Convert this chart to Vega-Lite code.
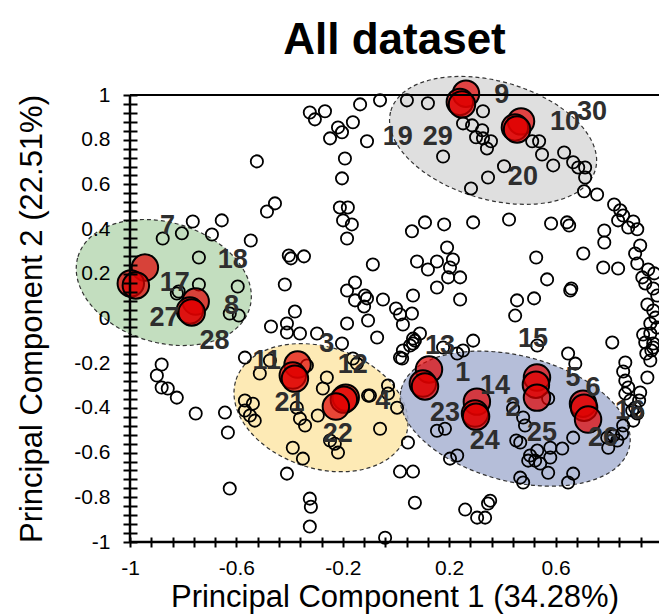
{
  "$schema": "https://vega.github.io/schema/vega-lite/v6.json",
  "width": 529,
  "height": 447,
  "autosize": {"type": "none"},
  "padding": {"left": 130, "top": 95, "right": 0, "bottom": 72},
  "config": {"view": {"stroke": null}, "font": "Liberation Sans"},
  "title": {"text": "All dataset", "font": "Liberation Sans", "fontSize": 44, "fontWeight": "bold", "color": "black", "anchor": "middle", "frame": "group", "offset": 11},
  "datasets": {
    "ell": [
      {"group": "green", "x": -0.873, "y": 0.161},
      {"group": "yellow", "x": -0.282, "y": -0.399},
      {"group": "blue", "x": 0.448, "y": -0.448},
      {"group": "grey", "x": 0.365, "y": 0.797}
    ],
    "pts": [
      {"x":-0.324,"y":0.922},{"x":-0.305,"y":0.891},{"x":-0.267,"y":0.927},{"x":-0.218,"y":0.855},{"x":-0.203,"y":0.833},{"x":-0.162,"y":0.878},{"x":-0.135,"y":0.958},{"x":-0.248,"y":0.806},{"x":-0.523,"y":0.703},{"x":-0.192,"y":0.716},{"x":-0.203,"y":0.627},{"x":-0.455,"y":0.515},{"x":-0.485,"y":0.479},{"x":-0.211,"y":0.497},{"x":-0.181,"y":0.497},{"x":-0.199,"y":0.439},{"x":-0.166,"y":0.421},{"x":-0.184,"y":0.358},{"x":-0.764,"y":0.434},{"x":-0.655,"y":0.439},{"x":-0.805,"y":0.381},{"x":-0.692,"y":0.376},{"x":-0.877,"y":0.358},{"x":-0.546,"y":0.349},{"x":-0.741,"y":0.273},{"x":-0.403,"y":0.282},{"x":-0.395,"y":0.269},{"x":-0.346,"y":0.278},{"x":-0.741,"y":0.152},{"x":-0.595,"y":0.143},{"x":-0.418,"y":0.152},{"x":-0.184,"y":0.125},{"x":-0.154,"y":0.161},{"x":-0.154,"y":0.081},{"x":-0.824,"y":0.112},{"x":-0.817,"y":0.121},{"x":-0.591,"y":0.013},{"x":-0.380,"y":0.031},{"x":-0.470,"y":-0.036},{"x":-0.410,"y":-0.022},{"x":-0.410,"y":-0.063},{"x":-0.361,"y":-0.067},{"x":-0.297,"y":-0.067},{"x":-0.184,"y":-0.022},{"x":-0.117,"y":0.103},{"x":-0.109,"y":0.090},{"x":-0.120,"y":0.054},{"x":-0.087,"y":0.242},{"x":-0.049,"y":0.085},{"x":-0.105,"y":-0.009},{"x":-0.071,"y":-0.085},{"x":-0.203,"y":-0.112},{"x":0.060,"y":0.390},{"x":0.109,"y":0.430},{"x":0.079,"y":0.255},{"x":0.120,"y":0.219},{"x":0.154,"y":0.255},{"x":0.154,"y":0.139},{"x":0.064,"y":0.103},{"x":0.000,"y":0.045},{"x":0.015,"y":0.018},{"x":0.060,"y":0.022},{"x":0.026,"y":-0.027},{"x":0.064,"y":-0.090},{"x":0.090,"y":-0.067},
      {"x":-0.060,"y":0.976},{"x":0.041,"y":0.976},{"x":0.120,"y":0.963},{"x":-0.109,"y":0.793},{"x":0.177,"y":0.725},{"x":0.252,"y":0.873},{"x":0.286,"y":0.864},{"x":0.327,"y":0.927},{"x":0.324,"y":0.842},{"x":0.301,"y":0.811},{"x":0.327,"y":0.806},{"x":0.357,"y":0.793},{"x":0.342,"y":0.761},{"x":0.282,"y":0.582},{"x":0.346,"y":0.631},{"x":0.406,"y":0.681},{"x":0.512,"y":0.793},{"x":0.538,"y":0.793},{"x":0.549,"y":0.734},{"x":0.591,"y":0.685},{"x":0.632,"y":0.743},{"x":0.666,"y":0.699},{"x":0.685,"y":0.676},{"x":0.711,"y":0.676},{"x":0.711,"y":0.631},{"x":0.707,"y":0.569},{"x":0.756,"y":0.555},{"x":0.290,"y":0.430},{"x":0.181,"y":0.421},{"x":0.425,"y":0.443},{"x":0.583,"y":0.425},{"x":0.643,"y":0.430},{"x":0.651,"y":0.416},{"x":0.192,"y":0.318},{"x":0.214,"y":0.264},{"x":0.203,"y":0.228},{"x":0.196,"y":0.184},{"x":0.241,"y":0.184},{"x":0.241,"y":0.085},{"x":0.455,"y":0.081},{"x":0.519,"y":0.090},{"x":0.448,"y":0.013},{"x":0.527,"y":0.273},{"x":0.568,"y":0.175},{"x":0.655,"y":0.125},{"x":0.704,"y":0.291},{"x":0.783,"y":0.394},{"x":0.783,"y":0.340},{"x":0.779,"y":0.228},{"x":0.835,"y":0.224},
      {"x":0.820,"y":0.510},{"x":0.843,"y":0.484},{"x":0.854,"y":0.461},{"x":0.835,"y":0.439},{"x":0.873,"y":0.407},{"x":0.892,"y":0.434},{"x":0.907,"y":0.399},{"x":0.918,"y":0.327},{"x":0.899,"y":0.291},{"x":0.907,"y":0.246},{"x":0.948,"y":0.219},{"x":0.971,"y":0.202},{"x":0.926,"y":0.184},{"x":0.937,"y":0.157},{"x":0.967,"y":0.134},{"x":0.982,"y":0.103},{"x":0.945,"y":0.063},{"x":0.967,"y":0.036},{"x":0.975,"y":0.004},{"x":0.956,"y":-0.022},{"x":0.982,"y":-0.040},{"x":0.956,"y":-0.067},{"x":0.929,"y":-0.072},{"x":0.937,"y":-0.107},{"x":0.967,"y":-0.112},{"x":0.960,"y":-0.143},{"x":0.941,"y":-0.157},{"x":0.956,"y":-0.188},{"x":0.945,"y":-0.264},{"x":0.918,"y":-0.331},{"x":0.914,"y":-0.367},{"x":0.907,"y":-0.425},{"x":0.888,"y":-0.412},{"x":0.892,"y":-0.457},{"x":0.967,"y":-0.130},{"x":0.659,"y":0.134},{"x":0.813,"y":-0.107},{"x":0.647,"y":-0.157},{"x":0.674,"y":-0.202},{"x":0.862,"y":-0.197},{"x":0.854,"y":-0.237},{"x":0.862,"y":-0.278},{"x":0.873,"y":-0.309},{"x":0.862,"y":-0.336},{"x":0.881,"y":-0.367},{"x":0.899,"y":-0.399},
      {"x":0.071,"y":-0.099},{"x":0.053,"y":-0.121},{"x":0.026,"y":-0.143},{"x":0.023,"y":-0.179},{"x":0.177,"y":-0.130},{"x":0.230,"y":-0.157},{"x":0.252,"y":-0.143},{"x":0.290,"y":-0.099},{"x":0.531,"y":-0.121},{"x":0.832,"y":-0.546},{"x":0.850,"y":-0.515},{"x":0.854,"y":-0.479},{"x":0.817,"y":-0.524},{"x":0.794,"y":-0.533},{"x":0.798,"y":-0.578},{"x":0.666,"y":-0.533},{"x":0.625,"y":-0.582},{"x":0.580,"y":-0.578},{"x":0.580,"y":-0.622},{"x":0.572,"y":-0.690},{"x":0.531,"y":-0.591},{"x":0.504,"y":-0.613},{"x":0.523,"y":-0.636},{"x":0.542,"y":-0.649},{"x":0.497,"y":-0.636},{"x":0.467,"y":-0.555},{"x":0.452,"y":-0.546},{"x":0.485,"y":-0.479},{"x":0.478,"y":-0.443},{"x":0.440,"y":-0.403},{"x":0.572,"y":-0.358},{"x":0.666,"y":-0.694},{"x":0.647,"y":-0.734},{"x":0.467,"y":-0.712},{"x":0.478,"y":-0.734},{"x":0.154,"y":-0.502},{"x":0.184,"y":-0.493},{"x":0.203,"y":-0.627},{"x":0.230,"y":-0.613},{"x":0.045,"y":-0.555},{"x":0.015,"y":-0.685},{"x":0.064,"y":-0.685},{"x":0.071,"y":-0.824},{"x":0.260,"y":-0.855},{"x":0.305,"y":-0.891},{"x":0.335,"y":-0.891},{"x":0.346,"y":-0.828},{"x":0.354,"y":-0.815},{"x":-0.041,"y":-0.981},{"x":-0.060,"y":-0.493},{"x":-0.098,"y":-0.345},{"x":-0.030,"y":-0.300},{"x":0.004,"y":-0.399},
      {"x":-0.625,"y":0.022},{"x":0.015,"y":-0.175},{"x":0.064,"y":-0.112},{"x":-0.568,"y":-0.175},{"x":-0.474,"y":-0.188},{"x":-0.512,"y":-0.246},{"x":-0.335,"y":-0.210},{"x":-0.162,"y":-0.179},{"x":-0.147,"y":-0.202},{"x":-0.260,"y":-0.264},{"x":-0.275,"y":-0.313},{"x":-0.030,"y":-0.336},{"x":-0.105,"y":-0.345},{"x":-0.568,"y":-0.367},{"x":-0.538,"y":-0.381},{"x":-0.568,"y":-0.412},{"x":-0.549,"y":-0.434},{"x":-0.531,"y":-0.457},{"x":-0.373,"y":-0.399},{"x":-0.361,"y":-0.448},{"x":-0.342,"y":-0.479},{"x":-0.294,"y":-0.434},{"x":-0.643,"y":-0.421},{"x":-0.632,"y":-0.510},{"x":-0.388,"y":-0.578},{"x":-0.350,"y":-0.627},{"x":-0.248,"y":-0.546},{"x":-0.230,"y":-0.560},{"x":-0.218,"y":-0.600},{"x":-0.410,"y":-0.694},{"x":-0.881,"y":-0.206},{"x":-0.899,"y":-0.255},{"x":-0.881,"y":-0.309},{"x":-0.858,"y":-0.313},{"x":-0.824,"y":-0.354},{"x":-0.753,"y":-0.425},{"x":-0.625,"y":-0.761},{"x":-0.324,"y":-0.806},{"x":-0.320,"y":-0.842},{"x":-0.324,"y":-0.931}
    ],
    "red": [
      {"id":9,"x":0.263,"y":1.006},{"id":19,"x":0.240,"y":0.969},{"id":29,"x":0.248,"y":0.958},
      {"id":10,"x":0.470,"y":0.882},{"id":20,"x":0.447,"y":0.855},{"id":30,"x":0.455,"y":0.846},
      {"id":7,"x":-0.944,"y":0.228},{"id":17,"x":-0.997,"y":0.157},{"id":27,"x":-0.978,"y":0.148},
      {"id":18,"x":-0.753,"y":0.076},{"id":8,"x":-0.775,"y":0.036},{"id":28,"x":-0.768,"y":0.027},
      {"id":11,"x":-0.370,"y":-0.206},{"id":3,"x":-0.388,"y":-0.255},{"id":21,"x":-0.380,"y":-0.269},
      {"id":12,"x":-0.189,"y":-0.354},{"id":4,"x":-0.196,"y":-0.363},{"id":22,"x":-0.226,"y":-0.394},
      {"id":13,"x":0.124,"y":-0.228},{"id":1,"x":0.101,"y":-0.291},{"id":23,"x":0.109,"y":-0.304},
      {"id":14,"x":0.304,"y":-0.372},{"id":2,"x":0.297,"y":-0.425},{"id":24,"x":0.301,"y":-0.439},
      {"id":15,"x":0.530,"y":-0.264},{"id":5,"x":0.526,"y":-0.296},{"id":25,"x":0.530,"y":-0.354},
      {"id":6,"x":0.703,"y":-0.381},{"id":16,"x":0.707,"y":-0.399},{"id":26,"x":0.722,"y":-0.452}
    ],
    "labels": [
      {"id":"9","x":0.398,"y":0.999},{"id":"29","x":0.157,"y":0.811},{"id":"19","x":0.007,"y":0.811},
      {"id":"10","x":0.635,"y":0.878},{"id":"30","x":0.737,"y":0.922},{"id":"20","x":0.477,"y":0.631},
      {"id":"7","x":-0.859,"y":0.416},{"id":"18","x":-0.614,"y":0.260},{"id":"17","x":-0.832,"y":0.157},
      {"id":"8","x":-0.618,"y":0.058},{"id":"27","x":-0.870,"y":0.004},{"id":"28","x":-0.682,"y":-0.099},
      {"id":"11","x":-0.486,"y":-0.188},{"id":"3","x":-0.260,"y":-0.112},{"id":"12","x":-0.163,"y":-0.210},
      {"id":"4","x":-0.050,"y":-0.367},{"id":"21","x":-0.400,"y":-0.376},{"id":"22","x":-0.219,"y":-0.515},
      {"id":"13","x":0.165,"y":-0.121},{"id":"1","x":0.251,"y":-0.246},{"id":"14","x":0.372,"y":-0.300},
      {"id":"23","x":0.184,"y":-0.421},{"id":"2","x":0.440,"y":-0.399},{"id":"24","x":0.334,"y":-0.546},
      {"id":"15","x":0.515,"y":-0.090},{"id":"25","x":0.549,"y":-0.511},{"id":"5","x":0.665,"y":-0.264},
      {"id":"6","x":0.741,"y":-0.313},{"id":"16","x":0.880,"y":-0.412},{"id":"26","x":0.778,"y":-0.533}
    ]
  },
  "layer": [
    {
      "data": {"name": "ell"},
      "transform": [{"filter": "datum.group == 'green'"}],
      "mark": {"type": "point", "shape": "M -1 0 A 1 0.67 0 1 1 1 0 A 1 0.67 0 1 1 -1 0 Z", "size": 32113, "angle": 16.7, "filled": true, "fill": "#bcdab8", "fillOpacity": 0.9, "stroke": "#333333", "strokeWidth": 1.2, "strokeDash": [4, 3], "opacity": 1},
      "encoding": {
        "x": {"field": "x", "type": "quantitative", "scale": {"domain": [-1, 0.9887], "nice": false, "zero": false},
          "axis": {"title": "Principal Component 1 (34.28%)", "values": [-1,-0.92,-0.84,-0.76,-0.68,-0.6,-0.52,-0.44,-0.36,-0.28,-0.2,-0.12,-0.04,0.04,0.12,0.2,0.28,0.36,0.44,0.52,0.6,0.68,0.76,0.84,0.92,1],
            "tickCount": 200, "zindex": 1,
            "labelExpr": "abs((datum.value + 1) / 0.4 - round((datum.value + 1) / 0.4)) < 0.01 ? toString(datum.value) : ''",
            "offset": -5, "tickSize": 10, "tickWidth": 2, "tickColor": "black", "domain": false, "grid": false,
            "labelFontSize": 21, "labelColor": "black", "labelPadding": 10, "labelOverlap": false, "labelFlush": false, "labelFont": "Liberation Sans",
            "titleFontSize": 31, "titleFontWeight": "normal", "titleColor": "black", "titlePadding": 4, "titleFont": "Liberation Sans"}},
        "y": {"field": "y", "type": "quantitative", "scale": {"domain": [-1, 1], "nice": false, "zero": false},
          "axis": {"title": "Principal Component 2 (22.51%)", "values": [-1,-0.96,-0.92,-0.88,-0.84,-0.8,-0.76,-0.72,-0.68,-0.64,-0.6,-0.56,-0.52,-0.48,-0.44,-0.4,-0.36,-0.32,-0.28,-0.24,-0.2,-0.16,-0.12,-0.08,-0.04,0,0.04,0.08,0.12,0.16,0.2,0.24,0.28,0.32,0.36,0.4,0.44,0.48,0.52,0.56,0.6,0.64,0.68,0.72,0.76,0.8,0.84,0.88,0.92,0.96,1],
            "tickCount": 200, "zindex": 1,
            "labelExpr": "abs(datum.value * 5 - round(datum.value * 5)) < 0.01 ? toString(datum.value) : ''",
            "offset": -7, "tickSize": 14, "tickWidth": 2, "tickColor": "black", "domain": false, "grid": false,
            "labelFontSize": 21, "labelColor": "black", "labelPadding": 13, "labelOverlap": false, "labelFlush": false, "labelFont": "Liberation Sans",
            "titleFontSize": 31, "titleFontWeight": "normal", "titleColor": "black", "titlePadding": 25, "titleFont": "Liberation Sans"}}
      }
    },
    {
      "data": {"name": "ell"},
      "transform": [{"filter": "datum.group == 'yellow'"}],
      "mark": {"type": "point", "shape": "M -1 0 A 1 0.678 0 1 1 1 0 A 1 0.678 0 1 1 -1 0 Z", "size": 31970, "angle": 18.3, "filled": true, "fill": "#fde8ad", "fillOpacity": 0.9, "stroke": "#333333", "strokeWidth": 1.2, "strokeDash": [4, 3], "opacity": 1},
      "encoding": {"x": {"field": "x", "type": "quantitative"}, "y": {"field": "y", "type": "quantitative"}}
    },
    {
      "data": {"name": "ell"},
      "transform": [{"filter": "datum.group == 'blue'"}],
      "mark": {"type": "point", "shape": "M -1 0 A 1 0.533 0 1 1 1 0 A 1 0.533 0 1 1 -1 0 Z", "size": 55413, "angle": 14.5, "filled": true, "fill": "#a8b3d2", "fillOpacity": 0.85, "stroke": "#333333", "strokeWidth": 1.2, "strokeDash": [4, 3], "opacity": 1},
      "encoding": {"x": {"field": "x", "type": "quantitative"}, "y": {"field": "y", "type": "quantitative"}}
    },
    {
      "data": {"name": "ell"},
      "transform": [{"filter": "datum.group == 'grey'"}],
      "mark": {"type": "point", "shape": "M -1 0 A 1 0.555 0 1 1 1 0 A 1 0.555 0 1 1 -1 0 Z", "size": 45284, "angle": 16.1, "filled": true, "fill": "#dcdcdc", "fillOpacity": 0.9, "stroke": "#333333", "strokeWidth": 1.2, "strokeDash": [4, 3], "opacity": 1},
      "encoding": {"x": {"field": "x", "type": "quantitative"}, "y": {"field": "y", "type": "quantitative"}}
    },
    {
      "data": {"name": "pts"},
      "mark": {"type": "point", "shape": "circle", "filled": false, "stroke": "black", "strokeWidth": 1.8, "size": 150, "opacity": 1},
      "encoding": {"x": {"field": "x", "type": "quantitative"}, "y": {"field": "y", "type": "quantitative"}}
    },
    {
      "data": {"name": "red"},
      "mark": {"type": "point", "shape": "circle", "filled": true, "fill": "#e00000", "fillOpacity": 0.7, "stroke": "black", "strokeWidth": 2, "strokeOpacity": 1, "size": 700, "opacity": 1},
      "encoding": {"x": {"field": "x", "type": "quantitative"}, "y": {"field": "y", "type": "quantitative"}}
    },
    {
      "data": {"name": "labels"},
      "mark": {"type": "text", "font": "Liberation Sans", "fontSize": 27, "fontWeight": "bold", "color": "#2e2e2e", "align": "center", "baseline": "middle"},
      "encoding": {"x": {"field": "x", "type": "quantitative"}, "y": {"field": "y", "type": "quantitative"}, "text": {"field": "id"}}
    },
    {
      "data": {"values": [{}]},
      "mark": {"type": "rule", "color": "black", "strokeWidth": 2},
      "encoding": {"y": {"datum": 1, "type": "quantitative"}}
    },
    {
      "data": {"values": [{}]},
      "mark": {"type": "rule", "color": "black", "strokeWidth": 2.5},
      "encoding": {"y": {"datum": -1, "type": "quantitative"}}
    },
    {
      "data": {"values": [{}]},
      "mark": {"type": "rule", "color": "black", "strokeWidth": 2.5},
      "encoding": {"x": {"datum": -1, "type": "quantitative"}}
    }
  ]
}
